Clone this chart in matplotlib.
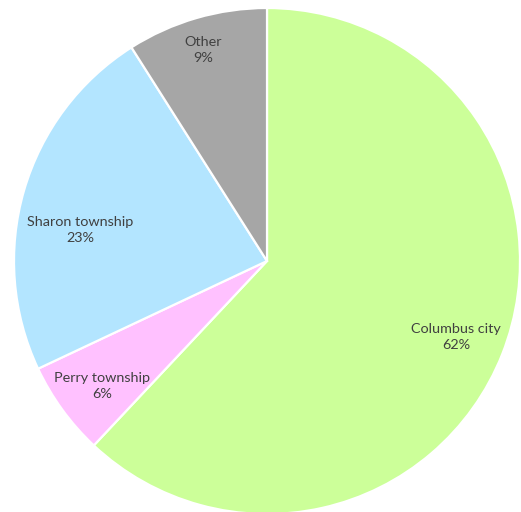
import matplotlib
matplotlib.use("Agg")
import matplotlib.pyplot as plt
import numpy as np

labels = ["Columbus city", "Perry township", "Sharon township", "Other"]
values = [62, 6, 23, 9]
colors = ["#CCFF99", "#FFC1FF", "#B3E5FF", "#A6A6A6"]

# label positions (fraction of radius)
label_pos = [(0.747, -0.300), (-0.652, -0.494), (-0.739, 0.123), (-0.253, 0.834)]

W, H = 521, 512
fig = plt.figure(figsize=(W / 100, H / 100), dpi=100)
cx, cy, r = 267, 261, 253
ax = fig.add_axes([(cx - r) / W, (H - cy - r) / H, 2 * r / W, 2 * r / H])
wedges, _ = ax.pie(values, colors=colors, startangle=90, counterclock=False,
                   radius=1.0, wedgeprops=dict(edgecolor="white", linewidth=1.6))
ax.set_xlim(-1, 1)
ax.set_ylim(-1, 1)
ax.set_aspect("equal")
ax.axis("off")

for lab, v, (x, y) in zip(labels, values, label_pos):
    ax.text(x, y, f"{lab}\n{v}%", ha="center", va="center", fontsize=10.4,
            color="#404040", family=["Lato", "DejaVu Sans"], linespacing=1.4)

fig.savefig("out.png", dpi=100)
